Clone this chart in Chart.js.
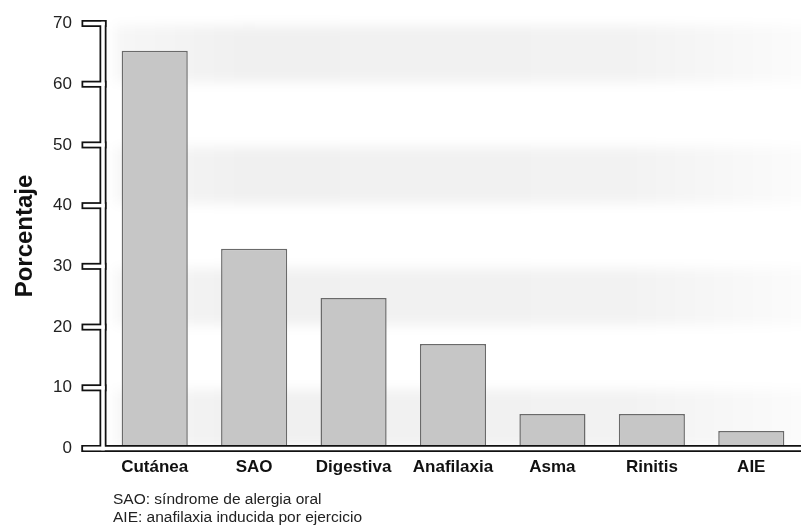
<!DOCTYPE html>
<html>
<head>
<meta charset="utf-8">
<script src="https://cdn.jsdelivr.net/npm/chart.js@4.4.1/dist/chart.umd.min.js"></script>
<style>
  body { margin: 0; background: #fff; }
  #wrap { position: relative; width: 801px; height: 528px; }
  #chart { display: block; }
  .nota { position: absolute; left: 113px; font: 15.5px/18px "Liberation Sans", Arial, sans-serif; color: #222; white-space: nowrap; }
</style>
</head>
<body>
<div id="wrap">
  <canvas id="chart" width="801" height="528"></canvas>
  <div class="nota" style="top:490px">SAO: síndrome de alergia oral</div>
  <div class="nota" style="top:508px">AIE: anafilaxia inducida por ejercicio</div>
</div>
<script>
// data
var categories = ['Cutánea', 'SAO', 'Digestiva', 'Anafilaxia', 'Asma', 'Rinitis', 'AIE'];
var porcentajes = [65.5, 32.9, 24.8, 17.2, 5.7, 5.7, 2.9];
var yMin = 0, yMax = 70, yStep = 10;
var yTitle = 'Porcentaje';

// faint grey bands behind the bars (every other interval)
var bandas = {
	id: 'bandas',
	beforeDatasetsDraw: function (chart) {
		var ctx = chart.ctx, a = chart.chartArea, y = chart.scales.y;
		ctx.save();
		ctx.filter = 'blur(6px)';
		for (var v = yMin; v < yMax; v += 2 * yStep) {
			var top = y.getPixelForValue(v + yStep), bot = y.getPixelForValue(v);
			var g = ctx.createLinearGradient(a.left, 0, a.right, 0);
			g.addColorStop(0, 'rgba(0,0,0,0.03)');
			g.addColorStop(0.2, 'rgba(0,0,0,0.06)');
			g.addColorStop(0.75, 'rgba(0,0,0,0.05)');
			g.addColorStop(1, 'rgba(0,0,0,0.015)');
			ctx.fillStyle = g;
			ctx.fillRect(a.left + 10, top + 2, a.right - a.left, bot - top - 4);
		}
		ctx.restore();
	}
};

// hollow (double line) axes and ticks
var ejes = {
	id: 'ejes',
	afterDatasetsDraw: function (chart) {
		var ctx = chart.ctx, a = chart.chartArea, y = chart.scales.y;
		var ax = a.left - 2;
		var y0 = y.getPixelForValue(yMin), yTop = y.getPixelForValue(yMax);
		var segs = [[ax, yTop, ax, y0], [85, y0, chart.width + 10, y0]];
		y.ticks.forEach(function (t) {
			var py = y.getPixelForValue(t.value);
			segs.push([85, py, ax, py]);
		});
		function stroke(color, w) {
			ctx.strokeStyle = color;
			ctx.lineWidth = w;
			ctx.lineCap = 'square';
			segs.forEach(function (s) {
				ctx.beginPath();
				ctx.moveTo(s[0], s[1]);
				ctx.lineTo(s[2], s[3]);
				ctx.stroke();
			});
		}
		ctx.save();
		stroke('#111', 7);
		stroke('#fff', 3.5);
		ctx.restore();
	}
};

new Chart(document.getElementById('chart'), {
	type: 'bar',
	data: {
		labels: categories,
		datasets: [{
			data: porcentajes,
			backgroundColor: '#c6c6c6',
			borderColor: '#6a6a6a',
			borderWidth: 1.5,
			categoryPercentage: 1,
			barPercentage: 0.665
		}]
	},
	options: {
		responsive: false,
		animation: false,
		layout: { padding: { top: 23.5, right: 0, left: 0, bottom: 0 } },
		plugins: { legend: { display: false }, tooltip: { enabled: false } },
		scales: {
			x: {
				grid: { display: false, drawTicks: false },
				border: { display: false },
				ticks: { color: '#111', padding: 9, font: { family: 'Liberation Sans', size: 17, weight: 'bold' } },
				afterFit: function (s) { s.height = 528 - 448.5; }
			},
			y: {
				min: yMin,
				max: yMax,
				grid: { display: false, drawTicks: false },
				border: { display: false },
				ticks: { stepSize: yStep, color: '#222', padding: 33, font: { family: 'Liberation Sans', size: 17 } },
				title: {
					display: true,
					text: yTitle,
					color: '#111',
					padding: { top: 11, bottom: 0 },
					font: { family: 'Liberation Sans', size: 24, weight: 'bold' }
				},
				afterFit: function (s) {
					s.width = 105;
					// tick padding is horizontal only, keep it out of the top/bottom space
					s.paddingTop = 0;
					s.paddingBottom = 0;
				}
			}
		}
	},
	plugins: [bandas, ejes]
});
</script>
</body>
</html>
